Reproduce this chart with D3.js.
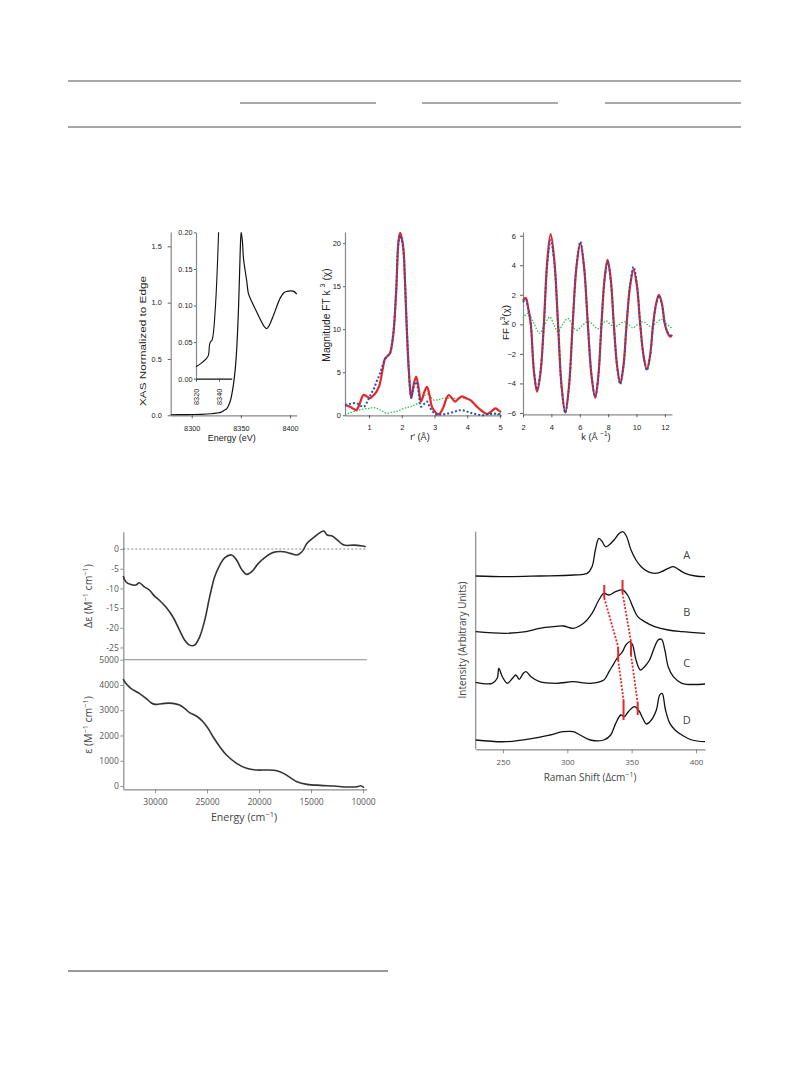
<!DOCTYPE html>
<html><head><meta charset="utf-8">
<script src="https://cdn.jsdelivr.net/npm/d3@7"></script>
<style>body{margin:0;background:#fff}</style>
</head><body>
<svg id="c" width="808" height="1067"></svg>
<script>
// ---------- DATA ----------
// XAS (energy eV, normalized absorption)
const xasMain = [[8278.6,0.005],[8290,0.006],[8300,0.007],[8310,0.009],[8320,0.014],[8325,0.019],[8330,0.028],[8333,0.045],[8335.7,0.06],[8339,0.12],[8342.4,0.27],[8345.2,0.51],[8347.6,0.95],[8349.3,1.45],[8350.3,1.625],[8351.5,1.55],[8352.7,1.39],[8356,1.19],[8357.7,1.08],[8361,1.01],[8366,0.92],[8371,0.83],[8374,0.785],[8376.5,0.77],[8379,0.8],[8383.3,0.89],[8390,1.04],[8394,1.09],[8397,1.10],[8401,1.105],[8404,1.10],[8406.8,1.075]];
const xasInset = [[8320,0.0164],[8324.4,0.021],[8328.8,0.027],[8330.8,0.032],[8331.7,0.046],[8332.5,0.05],[8334,0.053],[8335.2,0.064],[8336.4,0.087],[8337.6,0.119],[8338.8,0.164],[8339.6,0.2]];
const xasXTicks = [8300, 8350, 8400];
const xasYTicks = [0, 0.5, 1.0, 1.5];
const insetXTicks = [8320, 8340];
const insetYTicks = [0, 0.05, 0.10, 0.15, 0.20];

// FT magnitude (r' Å, value)
const ftData = [[0.27,1.2],[0.42,1.0],[0.55,0.7],[0.62,0.62],[0.72,1.4],[0.83,2.36],[0.93,2.2],[1.03,1.98],[1.13,2.3],[1.23,2.75],[1.32,3.5],[1.42,5.4],[1.49,6.6],[1.57,6.9],[1.64,7.2],[1.74,9.3],[1.83,14.4],[1.9,20.2],[1.95,21.2],[2.0,20.6],[2.05,19.4],[2.1,15.5],[2.15,10.5],[2.22,5.0],[2.29,2.0],[2.36,3.5],[2.44,4.5],[2.51,3.3],[2.59,1.6],[2.68,2.6],[2.77,3.3],[2.85,2.3],[2.92,1.0],[3.02,0.4],[3.12,0.1],[3.2,0.4],[3.28,1.0],[3.35,1.8],[3.43,2.36],[3.53,2.0],[3.63,1.6],[3.73,1.9],[3.84,2.2],[3.95,2.0],[4.09,1.8],[4.2,1.4],[4.3,1.0],[4.45,0.5],[4.6,0.15],[4.72,0.4],[4.86,0.8],[4.95,0.6],[5.03,0.35]];
const ftFit = [[0.27,1.2],[0.45,1.35],[0.62,1.4],[0.75,1.1],[0.85,1.0],[0.95,1.6],[1.05,2.4],[1.15,3.1],[1.23,3.9],[1.32,4.7],[1.39,5.5],[1.49,6.5],[1.57,6.9],[1.64,7.2],[1.74,9.5],[1.83,14.5],[1.9,20.0],[1.95,20.9],[2.0,20.4],[2.05,19.2],[2.1,15.5],[2.15,10.5],[2.22,5.0],[2.29,2.0],[2.36,3.2],[2.44,3.9],[2.51,2.8],[2.59,1.0],[2.68,1.3],[2.77,1.6],[2.85,1.0],[2.95,0.4],[3.05,0.1],[3.2,0.1],[3.4,0.2],[3.6,0.4],[3.79,0.6],[3.95,0.5],[4.09,0.3],[4.25,0.15],[4.45,0.02],[4.6,0.1],[4.8,0.2],[4.95,0.15],[5.03,0.1]];
const ftDiff = [[0.27,0],[0.42,0.3],[0.6,0.5],[0.8,0.7],[1.0,0.8],[1.13,0.9],[1.25,0.8],[1.4,0.5],[1.54,0.23],[1.7,0.35],[1.85,0.45],[2.0,0.7],[2.15,0.9],[2.26,1.0],[2.4,1.2],[2.56,1.6],[2.68,2.2],[2.77,2.5],[2.87,2.2],[2.97,1.8],[3.1,1.8],[3.28,2.0],[3.48,2.0],[3.65,1.95],[3.79,2.05],[3.95,1.95],[4.09,1.7],[4.3,1.0],[4.5,0.4],[4.65,0.15],[4.8,0.05],[4.95,0.1],[5.03,0.15]];
const ftXTicks = [1,2,3,4,5];
const ftYTicks = [0,5,10,15,20];

// k-space (k Å^-1, value)
const kData = [[2.0,1.6],[2.19,1.8],[2.37,1.1],[2.55,0],[2.77,-3.2],[2.99,-4.56],[3.23,-3.3],[3.47,0],[3.71,4.3],[3.95,6.1],[4.21,4.3],[4.47,0],[4.72,-4.2],[4.98,-5.97],[5.24,-4.2],[5.5,0],[5.77,3.9],[6.04,5.5],[6.3,3.9],[6.57,0],[6.83,-3.5],[7.09,-4.97],[7.31,-3.5],[7.53,0],[7.75,3.1],[7.96,4.36],[8.18,3.1],[8.4,0],[8.63,-2.8],[8.85,-4.0],[9.08,-2.8],[9.3,0],[9.55,2.6],[9.79,3.7],[10.03,2.6],[10.26,0],[10.5,-2.15],[10.73,-3.05],[10.95,-2.15],[11.17,0],[11.38,1.4],[11.58,2.0],[11.79,1.4],[12.0,0],[12.2,-0.6],[12.38,-0.84],[12.5,-0.7]];
const kFit = [[2.0,1.5],[2.19,1.7],[2.37,1.0],[2.55,0],[2.77,-3.1],[2.99,-4.4],[3.23,-3.2],[3.47,0],[3.71,4.0],[3.95,5.7],[4.21,4.1],[4.47,0],[4.72,-4.25],[4.98,-6.0],[5.24,-4.25],[5.5,0],[5.77,3.95],[6.04,5.6],[6.3,3.95],[6.57,0],[6.83,-3.45],[7.09,-4.9],[7.31,-3.45],[7.53,0],[7.75,3.0],[7.96,4.25],[8.18,3.0],[8.4,0],[8.63,-2.85],[8.85,-4.05],[9.08,-2.85],[9.3,0],[9.55,2.75],[9.79,3.9],[10.03,2.7],[10.26,0],[10.5,-2.2],[10.73,-3.1],[10.95,-2.2],[11.17,0],[11.38,1.35],[11.58,1.95],[11.79,1.35],[12.0,0],[12.2,-0.55],[12.38,-0.75],[12.5,-0.7]];
const kDiff = [[2.0,0.4],[2.35,0.75],[2.75,0.1],[3.17,-0.6],[3.5,-0.1],[3.88,0.5],[4.17,0],[4.46,-0.5],[4.8,0],[5.17,0.4],[5.45,0],[5.76,-0.4],[6.15,-0.1],[6.58,0.2],[6.9,0],[7.28,-0.3],[7.57,0],[7.87,0.23],[8.15,0],[8.46,-0.16],[8.8,0],[9.16,0.18],[9.45,0],[9.75,-0.23],[10.1,0],[10.45,0.18],[10.75,0],[11.04,-0.16],[11.4,0.1],[11.74,0.34],[12.15,0],[12.5,-0.27]];
const kXTicks = [2,4,6,8,10,12];
const kYTicks = [-6,-4,-2,0,2,4,6];

// CD and absorption (energy cm^-1, value)
const cdData = [[33065,-6.86],[32806,-8.3],[32323,-9.0],[31839,-9.15],[31516,-8.56],[31032,-9.6],[30548,-10.4],[30065,-11.9],[29580,-13.0],[28935,-14.8],[28290,-17.2],[27645,-20.6],[27161,-23.1],[26677,-24.4],[26194,-24.4],[25710,-22.3],[25226,-18.1],[24742,-12.1],[24258,-7.0],[23774,-4.07],[23290,-2.2],[22645,-1.5],[22161,-2.8],[21677,-5.17],[21194,-6.44],[20710,-5.76],[20064,-3.64],[19419,-2.1],[18613,-0.85],[17645,-0.68],[17000,-1.1],[16355,-1.5],[15871,-0.68],[15387,1.44],[14742,2.97],[14097,4.24],[13774,4.58],[13452,3.56],[12968,3.3],[12484,2.3],[11839,1.0],[10871,1.0],[10065,0.76],[9742,0.6]];
const absData = [[33065,4235],[32806,4063],[32323,3865],[31516,3668],[30871,3470],[30387,3298],[30000,3232],[29580,3245],[29097,3272],[28290,3272],[27645,3206],[27161,3074],[26677,2902],[26032,2770],[25387,2546],[24903,2282],[24419,1952],[23774,1557],[23129,1227],[22161,897],[21194,699],[20226,633],[19258,633],[18290,607],[17645,501],[17000,330],[16355,172],[15387,66],[14097,26],[12806,0],[11516,-40],[10548,-26],[10226,13],[9903,-66]];
const energyTicks = [30000,25000,20000,15000,10000];
const cdYTicks = [0,-5,-10,-15,-20,-25];
const absYTicks = [0,1000,2000,3000,4000,5000];

// Raman (shift cm^-1, height above trace baseline)
const ramanLabels = ["A","B","C","D"];
const ramanOffsets = [171.3, 114.7, 64, 6.3];
const ramanA = [[228.8,0.7],[252,0],[278.4,0.7],[304.7,1.7],[315.3,3.3],[319.2,10],[321.8,26.7],[324.5,38.3],[327.1,35],[329.7,30],[332.4,31.7],[336.3,36.7],[340.3,43.3],[342.9,45],[345.5,41.7],[349.5,26.7],[353.4,16.7],[357.4,10],[362.6,5],[367.9,3.3],[373.2,5],[378.4,8.3],[382.4,10],[386.3,7.3],[391.6,3.3],[399.5,0.7],[407,0]];
const ramanB = [[228.8,1.7],[252,0],[267.9,1.7],[278.4,5],[289,6.7],[296.8,7.3],[304.7,5],[312.6,10],[319.2,20],[324.5,33.3],[328.4,40],[332.4,38.3],[337.6,41.7],[342.9,43.3],[346.8,38.3],[350.8,26.7],[354.7,16.7],[360,11.7],[367.9,6.7],[378.4,3.3],[389,1.7],[407,0]];
const ramanC = [[228.8,1.7],[241.6,0.7],[245.5,5.7],[246.8,15.7],[249.5,7.3],[253.4,0.7],[257.4,5.7],[260,9],[262.6,4.7],[265.8,10.7],[267.9,12.3],[271.8,7.3],[278.4,2.3],[291.6,0.7],[304.7,2.3],[317.9,0.7],[328.4,4],[332.4,12.3],[336.3,20.7],[339.5,27.3],[342.9,32.3],[345.5,39],[348.9,42.3],[350.8,39],[353.4,24],[356.8,14],[360,17.3],[363.9,24],[367.9,37.3],[370.5,44],[373.2,44.7],[375.8,34],[378.4,17.3],[382.4,7.3],[389,0.7],[407,0]];
const ramanD = [[228.8,1.7],[252,0],[273,3.3],[286.3,6.7],[296.8,10],[304.7,10],[310,6.7],[317.9,1.7],[328.4,1.7],[333.7,6.7],[337.6,18.3],[341.6,26.7],[344.2,25],[347.4,30],[352.1,35],[355.3,31.7],[358.7,23.3],[361.3,17.7],[365.3,21.7],[369.2,31.7],[371.8,46.7],[373.7,48.3],[376.3,31.7],[379.7,18.3],[383.7,11.7],[389,6.7],[396.8,1.7],[407,0]];
const ramanTraces = [ramanA, ramanB, ramanC, ramanD];
const ramanXTicks = [250,300,350,400];
// red band markers: [shift, lowIntensity, highIntensity]
const ramanMarks = [[328.7,150,163],[342.9,155,168],[339.5,88,101.3],[349.5,93,106.3],[343.7,28,48],[354.7,33,45]];
const ramanDots1 = [[328.7,150],[339.5,101.3],[339.5,88],[343.7,48]];
const ramanDots2 = [[342.9,155],[349.5,106.3],[349.5,93],[354.7,45]];

// ---------- DRAW ----------
const svg = d3.select('#c');
const ARIAL = 'Liberation Sans, Arial, sans-serif';
const MYR = 'Open Sans, sans-serif';
const RED = '#e5262b', BLUE = '#2a4fae', GREEN = '#2fbf55';

function styleAxis(g, o) {
  g.attr('font-family', o.font).attr('font-size', o.fs);
  g.select('.domain').attr('stroke', o.axis || '#777').attr('stroke-width', o.sw || 1.2);
  g.selectAll('.tick line').attr('stroke', o.tick || '#444').attr('stroke-width', 0.8);
  g.selectAll('.tick text').attr('fill', o.txt || '#222');
}
function line(x, y, curve) {
  return d3.line().x(d => x(d[0])).y(d => y(d[1])).curve(curve || d3.curveCatmullRom.alpha(0.5));
}
function text(x, y, s, o) {
  const t = svg.append('text').attr('x', x).attr('y', y)
    .attr('font-family', o.font).attr('font-size', o.fs).attr('fill', o.fill || '#222')
    .attr('text-anchor', o.anchor || 'middle');
  if (o.rot) t.attr('transform', `rotate(${o.rot},${x},${y})`);
  if (o.len) t.attr('textLength', o.len).attr('lengthAdjust', 'spacingAndGlyphs');
  t.append('tspan').text(s);
  return t;
}
function sup(t, s, fs) {
  t.append('tspan').text(s).attr('font-size', fs * 0.7).attr('dy', -fs * 0.4);
}
function unsup(t, s, fs) {
  t.append('tspan').text(s).attr('dy', fs * 0.4);
}

// Table rules
const rule = (x1, x2, y, w, c) => svg.append('line').attr('x1', x1).attr('x2', x2).attr('y1', y).attr('y2', y).attr('stroke', c).attr('stroke-width', w);
rule(68, 741, 81, 1.1, '#555');
rule(240, 376, 103, 1.1, '#555');
rule(422, 558, 103, 1.1, '#555');
rule(605, 741, 103, 1.1, '#555');
rule(68, 741, 127, 1.6, '#888');
rule(68, 388, 971, 1.6, '#777');

// ----- Panel 1: XAS -----
{
  const x = d3.scaleLinear().domain([8278.6, 8406.8]).range([170.7, 296.7]);
  const y = d3.scaleLinear().domain([0, 1.627]).range([415.3, 232]);
  const o = {font: ARIAL, fs: 7.3, axis: '#888', tick: '#333', txt: '#222'};
  svg.append('g').attr('transform', 'translate(0,415.3)')
    .call(d3.axisBottom(x).tickValues(xasXTicks).tickSize(3).tickSizeOuter(0).tickPadding(7.5).tickFormat(d3.format('d')))
    .call(g => styleAxis(g, o));
  svg.append('g').attr('transform', 'translate(170.7,0)')
    .call(d3.axisLeft(y).tickValues(xasYTicks).tickSize(3).tickSizeOuter(0).tickPadding(6).tickFormat(d3.format('.1f')))
    .call(g => styleAxis(g, o));
  // inset
  const xi = d3.scaleLinear().domain([8320, 8351]).range([196, 231.7]);
  const yi = d3.scaleLinear().domain([0, 0.2]).range([378.7, 232.3]);
  svg.append('g').attr('transform', 'translate(196,0)')
    .call(d3.axisLeft(yi).tickValues(insetYTicks).tickSize(2).tickSizeOuter(0).tickPadding(1.5).tickFormat(d3.format('.2f')))
    .call(g => styleAxis(g, o));
  const gi = svg.append('g').attr('transform', 'translate(0,378.7)')
    .call(d3.axisBottom(xi).tickValues(insetXTicks).tickSize(3).tickSizeOuter(0).tickFormat(d3.format('d')))
    .call(g => styleAxis(g, Object.assign({}, o, {axis: '#111'})));
  gi.selectAll('.tick text').attr('transform', 'rotate(-90)').attr('text-anchor', 'end')
    .attr('x', -10).attr('y', 0).attr('dy', '0.35em');
  svg.append('path').datum(xasInset).attr('fill', 'none').attr('stroke', '#111').attr('stroke-width', 1.1)
    .attr('d', line(xi, yi));
  svg.append('path').datum(xasMain).attr('fill', 'none').attr('stroke', '#111').attr('stroke-width', 1.2)
    .attr('d', line(x, y));
  text(231.7, 441, 'Energy (eV)', {font: ARIAL, fs: 9});
  text(146, 341, 'XAS Normalized to Edge', {font: ARIAL, fs: 9.3, rot: -90, len: 130});
}

// ----- Panel 2: FT -----
{
  const x = d3.scaleLinear().domain([0.267, 5.05]).range([345, 501.6]);
  const y = d3.scaleLinear().domain([0, 21.3]).range([415.3, 232]);
  const o = {font: ARIAL, fs: 7.5, axis: '#888', tick: '#333', txt: '#222'};
  svg.append('g').attr('transform', 'translate(0,415.3)')
    .call(d3.axisBottom(x).tickValues(ftXTicks).tickSize(3).tickSizeOuter(0).tickPadding(6).tickFormat(d3.format('d')))
    .call(g => styleAxis(g, o));
  svg.append('g').attr('transform', 'translate(345,0)')
    .call(d3.axisLeft(y).tickValues(ftYTicks).tickSize(2).tickSizeOuter(0).tickPadding(2).tickFormat(d3.format('d')))
    .call(g => styleAxis(g, o));
  svg.append('path').datum(ftDiff).attr('fill', 'none').attr('stroke', GREEN).attr('stroke-width', 1.3)
    .attr('stroke-dasharray', '1.5,1.5').attr('d', line(x, y));
  svg.append('path').datum(ftData).attr('fill', 'none').attr('stroke', RED).attr('stroke-width', 2.2)
    .attr('d', line(x, y));
  svg.append('path').datum(ftFit).attr('fill', 'none').attr('stroke', BLUE).attr('stroke-width', 2)
    .attr('stroke-dasharray', '2,2').attr('d', line(x, y));
  text(420, 440, "r' (Å)", {font: ARIAL, fs: 9.2});
  const t = text(329.5, 315, 'Magnitude FT k ', {font: ARIAL, fs: 10.3, rot: -90});
  sup(t, '3', 10.3);
  unsup(t, ' (χ)', 10.3);
}

// ----- Panel 3: k-space -----
{
  const x = d3.scaleLinear().domain([2, 12.5]).range([523, 672]);
  const y = d3.scaleLinear().domain([-6.09, 6.25]).range([414.3, 232]);
  const o = {font: ARIAL, fs: 7.5, axis: '#888', tick: '#333', txt: '#222'};
  svg.append('g').attr('transform', 'translate(0,414.3)')
    .call(d3.axisBottom(x).tickValues(kXTicks).tickSize(3).tickSizeOuter(0).tickPadding(7).tickFormat(d3.format('d')))
    .call(g => styleAxis(g, o));
  svg.append('g').attr('transform', 'translate(523,0)')
    .call(d3.axisLeft(y).tickValues(kYTicks).tickSize(3).tickSizeOuter(0).tickPadding(4).tickFormat(d3.format('d')))
    .call(g => styleAxis(g, o));
  svg.append('path').datum(kDiff).attr('fill', 'none').attr('stroke', GREEN).attr('stroke-width', 1.3)
    .attr('stroke-dasharray', '1.5,1.5').attr('d', line(x, y));
  svg.append('path').datum(kData).attr('fill', 'none').attr('stroke', RED).attr('stroke-width', 2.2)
    .attr('d', line(x, y));
  svg.append('path').datum(kFit).attr('fill', 'none').attr('stroke', BLUE).attr('stroke-width', 1.8)
    .attr('stroke-dasharray', '2,2').attr('d', line(x, y));
  const tx = text(596, 440, 'k (Å ', {font: ARIAL, fs: 9.2});
  sup(tx, '−1', 9.2);
  unsup(tx, ')', 9.2);
  const ty = text(508.5, 322.5, 'FF k', {font: ARIAL, fs: 9.8, rot: -90});
  sup(ty, '3', 9.8);
  unsup(ty, '(χ)', 9.8);
}

// ----- Panel 4: CD + absorption -----
{
  const x = d3.scaleLinear().domain([33050, 9650]).range([123.3, 366.7]);
  const yc = d3.scaleLinear().domain([-28.1, 4.4]).range([659.7, 531.7]);
  const ya = d3.scaleLinear().domain([-130, 5000]).range([789.3, 659.7]);
  const o = {font: MYR, fs: 8.5, axis: '#8a8a8a', tick: '#777', txt: '#555'};
  svg.append('g').attr('transform', 'translate(0,789.3)')
    .call(d3.axisBottom(x).tickValues(energyTicks).tickSize(4).tickSizeOuter(0).tickPadding(6).tickFormat(d3.format('d')))
    .call(g => styleAxis(g, o));
  svg.append('g').attr('transform', 'translate(123.3,0)')
    .call(d3.axisLeft(yc).tickValues(cdYTicks).tickSize(3).tickSizeOuter(0).tickPadding(1.5).tickFormat(d => String(d)))
    .call(g => styleAxis(g, o));
  svg.append('g').attr('transform', 'translate(123.3,0)')
    .call(d3.axisLeft(ya).tickValues(absYTicks).tickSize(3).tickSizeOuter(0).tickPadding(1.5).tickFormat(d3.format('d')))
    .call(g => styleAxis(g, o));
  // separator at 5000 and dashed zero line of CD
  svg.append('line').attr('x1', x(33050)).attr('x2', x(9650)).attr('y1', ya(5000)).attr('y2', ya(5000))
    .attr('stroke', '#8a8a8a').attr('stroke-width', 1.1);
  svg.append('line').attr('x1', x(33050)).attr('x2', x(9650)).attr('y1', yc(0)).attr('y2', yc(0))
    .attr('stroke', '#555').attr('stroke-width', 0.7).attr('stroke-dasharray', '2,2');
  svg.append('path').datum(cdData).attr('fill', 'none').attr('stroke', '#333').attr('stroke-width', 1.6)
    .attr('d', line(x, yc));
  svg.append('path').datum(absData).attr('fill', 'none').attr('stroke', '#333').attr('stroke-width', 1.6)
    .attr('d', line(x, ya));
  const tx = text(244, 821, 'Energy (cm', {font: MYR, fs: 10.6, fill: '#444'});
  sup(tx, '−1', 10.6);
  unsup(tx, ')', 10.6);
  const t1 = text(92, 596, 'Δε (M', {font: MYR, fs: 10.5, rot: -90, fill: '#444'});
  sup(t1, '−1', 10.5); unsup(t1, ' cm', 10.5); sup(t1, '−1', 10.5); unsup(t1, ')', 10.5);
  const t2 = text(92, 725, 'ε (M', {font: MYR, fs: 10.5, rot: -90, fill: '#444'});
  sup(t2, '−1', 10.5); unsup(t2, ' cm', 10.5); sup(t2, '−1', 10.5); unsup(t2, ')', 10.5);
}

// ----- Panel 5: Raman -----
{
  const x = d3.scaleLinear().domain([228.8, 407]).range([475.7, 705]);
  const y = d3.scaleLinear().domain([0, 220]).range([748, 528]);
  const o = {font: MYR, fs: 8, axis: '#8a8a8a', tick: '#777', txt: '#555'};
  svg.append('g').attr('transform', 'translate(0,749.3)')
    .call(d3.axisBottom(x).tickValues(ramanXTicks).tickSize(4).tickSizeOuter(0).tickPadding(6.5))
    .call(g => styleAxis(g, o));
  svg.append('line').attr('x1', 475.7).attr('x2', 475.7).attr('y1', 531.7).attr('y2', 749.3)
    .attr('stroke', '#8a8a8a').attr('stroke-width', 1.2);
  ramanTraces.forEach((tr, i) => {
    const off = ramanOffsets[i];
    svg.append('path').datum(tr).attr('fill', 'none').attr('stroke', '#111').attr('stroke-width', 1.3)
      .attr('d', d3.line().x(d => x(d[0])).y(d => y(d[1] + off)).curve(d3.curveCatmullRom.alpha(0.5)));
    text(686.7, y(off) - 17.5, ramanLabels[i], {font: MYR, fs: 11, fill: '#444'});
  });
  [ramanDots1, ramanDots2].forEach(pts => {
    svg.append('path').datum(pts.slice(0, 2)).attr('fill', 'none').attr('stroke', RED).attr('stroke-width', 1.8)
      .attr('stroke-dasharray', '2,1.6').attr('d', line(x, y, d3.curveLinear));
    svg.append('path').datum(pts.slice(2, 4)).attr('fill', 'none').attr('stroke', RED).attr('stroke-width', 1.8)
      .attr('stroke-dasharray', '2,1.6').attr('d', line(x, y, d3.curveLinear));
  });
  ramanMarks.forEach(m => {
    svg.append('line').attr('x1', x(m[0])).attr('x2', x(m[0])).attr('y1', y(m[1])).attr('y2', y(m[2]))
      .attr('stroke', RED).attr('stroke-width', 2);
  });
  const tx = text(590, 781, 'Raman Shift (Δcm', {font: MYR, fs: 10, fill: '#444'});
  sup(tx, '−1', 10);
  unsup(tx, ')', 10);
  text(466, 640, 'Intensity (Arbitrary Units)', {font: MYR, fs: 10, rot: -90, fill: '#444'});
}
</script>
</body></html>
